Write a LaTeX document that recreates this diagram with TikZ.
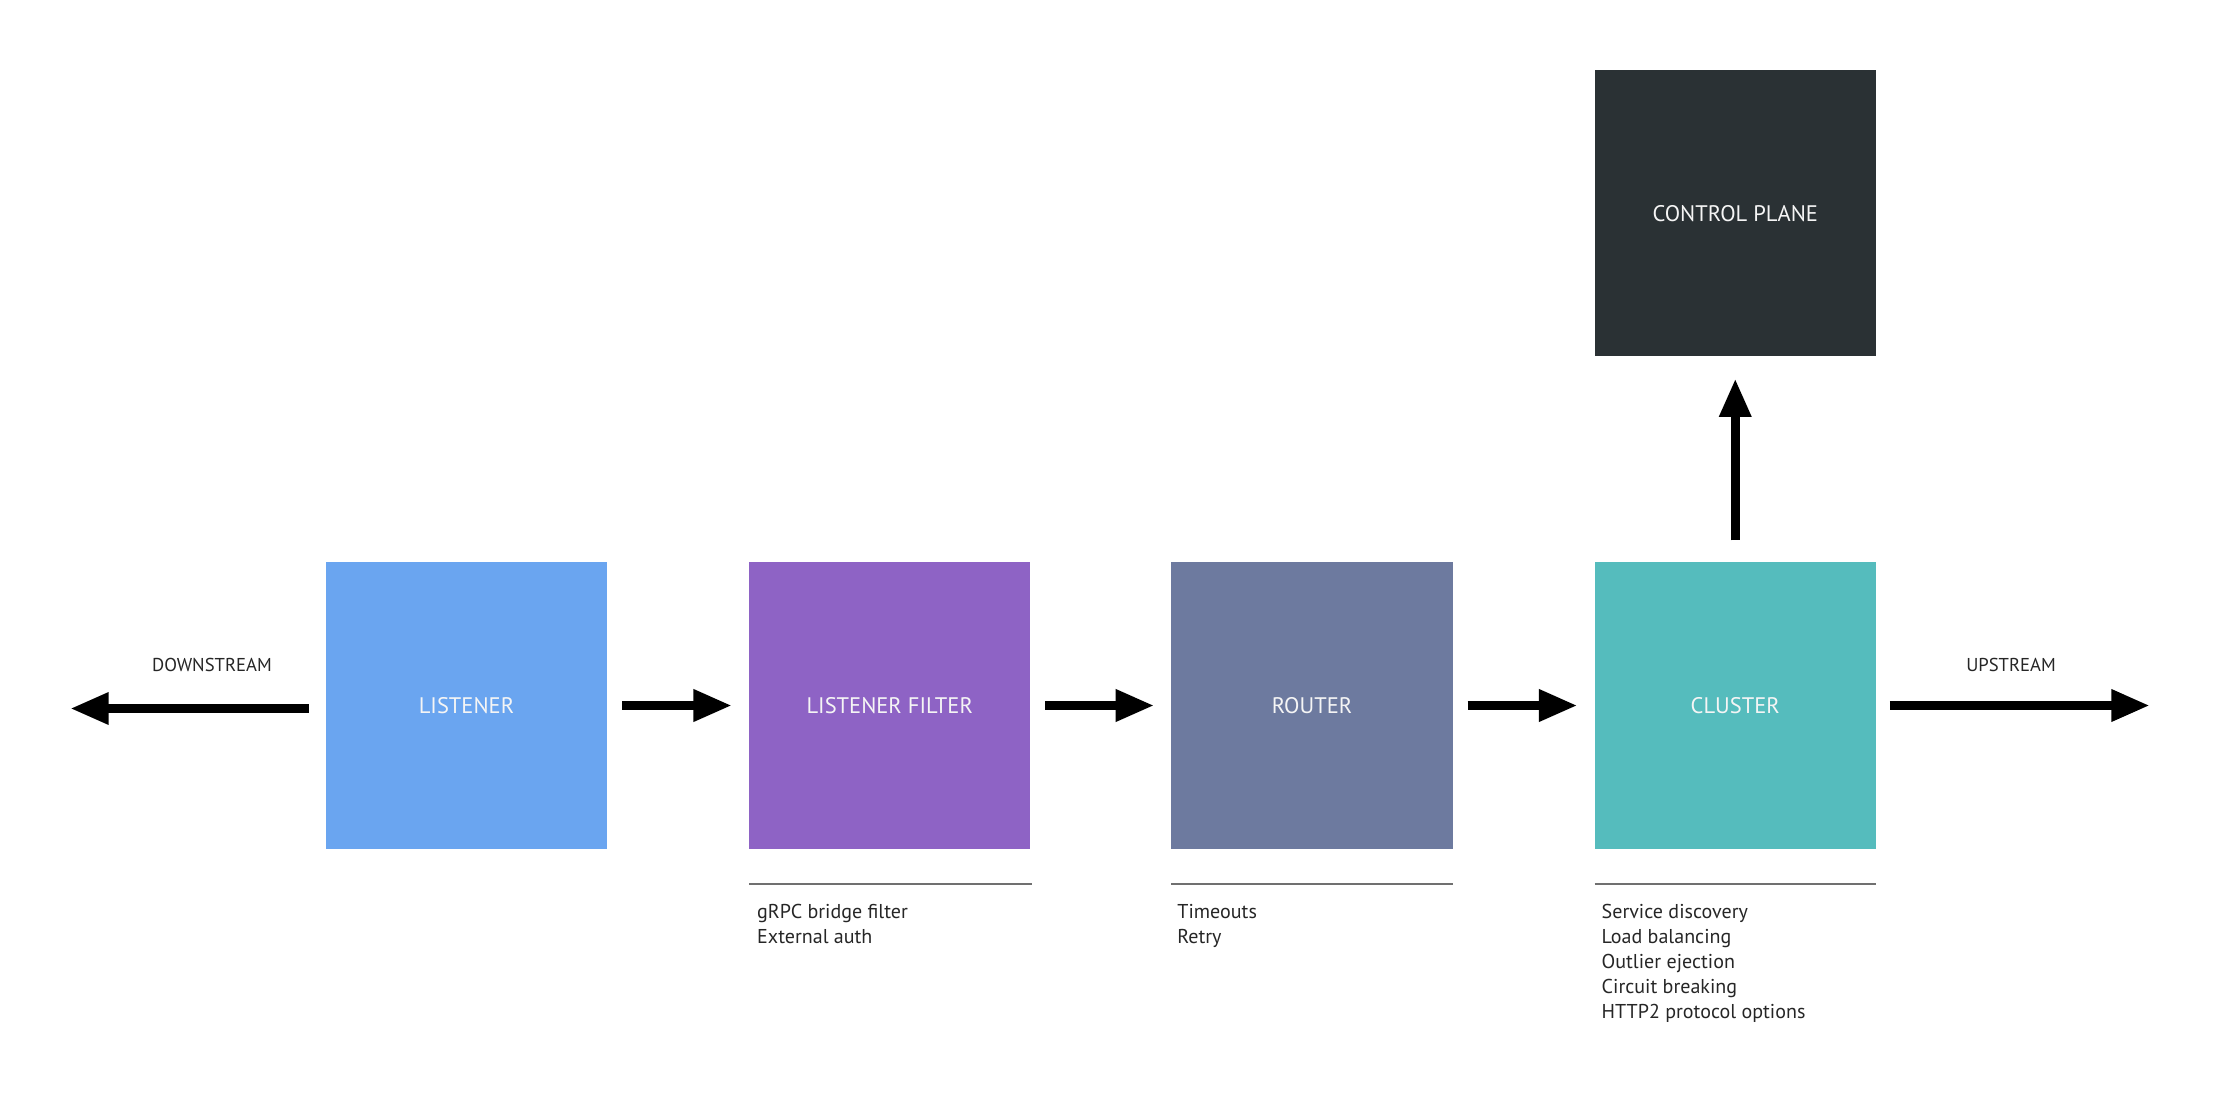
\documentclass[tikz,border=0pt]{standalone}
\usepackage{fontspec}
\setmainfont{PT Sans}
\usetikzlibrary{positioning,arrows.meta}
\definecolor{listenerblue}{HTML}{6AA5F0}
\definecolor{filterpurple}{HTML}{8E63C5}
\definecolor{routerslate}{HTML}{6D7A9F}
\definecolor{clusterteal}{HTML}{55BCBD}
\definecolor{planedark}{HTML}{2A3134}
\definecolor{notegray}{HTML}{262626}
\definecolor{rulegray}{HTML}{707070}

\begin{document}
\begin{tikzpicture}[x=0.01cm,y=-0.01cm,
    block/.style={minimum width=2.81cm, minimum height=2.86cm, inner sep=0pt, outer sep=0pt,
        text=white!96!black, font=\fontsize{6.4}{7}\selectfont},
    flow/.style={line width=2.7pt, -{Triangle[length=11pt,width=8.5pt]}},
    link/.style={flow, shorten <=0.15cm, shorten >=0.17cm},
    rule/.style={draw=rulegray, line width=0.77pt},
    notes/.style={inner sep=0pt, outer sep=0pt, align=left, text=notegray,
        font=\fontsize{5.7}{7.1}\selectfont},
    side/.style={text=notegray, font=\fontsize{5.3}{6}\selectfont}]
    \useasboundingbox (0,0) rectangle (2213,1113);
    \node[block, fill=listenerblue] (listener) at (466.5,705.5) {LISTENER};
    \node[block, fill=filterpurple, right=1.42cm of listener] (filter) {LISTENER FILTER};
    \node[block, fill=routerslate, right=1.41cm of filter] (router) {ROUTER};
    \node[block, fill=clusterteal, right=1.42cm of router] (cluster) {CLUSTER};
    \node[block, fill=planedark, above=2.06cm of cluster] (plane) {CONTROL PLANE};
    \coordinate (downend) at (70,708.5);
    \coordinate (upend) at (2150,705.5);
    \draw[flow, shorten <=0.17cm] (listener.west |- downend) -- (downend);
    \draw[flow, shorten <=0.14cm] (cluster.east) -- (upend);
    \draw[link] (listener) -- (filter);
    \draw[link] (filter) -- (router);
    \draw[link] (router) -- (cluster);
    \draw[flow, shorten <=0.22cm, shorten >=0.22cm] (cluster) -- (plane);
    \node[side] (downlabel) at (212,664.6) {DOWNSTREAM};
    \node[side] (uplabel) at (2011,664.6) {UPSTREAM};
    \draw[rule] ([yshift=-0.355cm]filter.south west) coordinate (filterrule)
        -- ([yshift=-0.355cm,xshift=0.02cm]filter.south east);
    \draw[rule] ([yshift=-0.355cm]router.south west) coordinate (routerrule)
        -- ([yshift=-0.355cm]router.south east);
    \draw[rule] ([yshift=-0.355cm]cluster.south west) coordinate (clusterrule)
        -- ([yshift=-0.355cm]cluster.south east);
    \node[notes, below right=0.2cm and 0.08cm of filterrule] (filternotes)
        {gRPC bridge filter\\External auth};
    \node[notes, below right=0.2cm and 0.06cm of routerrule] (routernotes)
        {Timeouts\\Retry};
    \node[notes, below right=0.2cm and 0.07cm of clusterrule] (clusternotes)
        {Service discovery\\Load balancing\\Outlier ejection\\Circuit breaking\\HTTP2 protocol options};
\end{tikzpicture}
\end{document}
